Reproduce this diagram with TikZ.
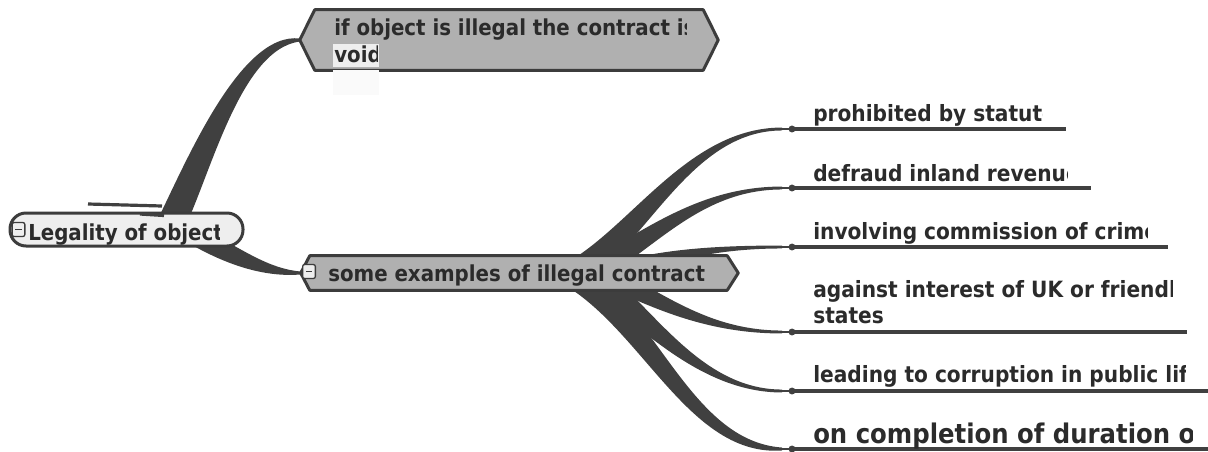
\documentclass[tikz,border=0pt]{standalone}
\usepackage{fontspec}
\newfontfamily\mapfont{DejaVu Sans Condensed}
\usetikzlibrary{calc}

\definecolor{ink}{HTML}{2B2B2B}
\definecolor{branchc}{HTML}{404040}
\definecolor{hexfill}{HTML}{B0B0B0}
\definecolor{paper}{HTML}{EEEEEE}
\definecolor{edge}{HTML}{3C3C3C}

\tikzset{
  branch/.style={fill=branchc},
  hexnode/.style={fill=hexfill, draw=edge, line width=2.25pt, line join=round},
  rootbox/.style={rectangle, rounded corners=12pt, fill=paper, draw=edge, line width=2.25pt,
                  minimum width=174.75pt, minimum height=24.75pt, inner sep=0pt},
  hexbox/.style={rectangle, inner sep=0pt},
  label/.style={font=\mapfont\bfseries\fontsize{16.5}{20}\selectfont, text=ink, inner sep=0pt, anchor=base west},
  leaflabel/.style={label, font=\mapfont\bfseries\fontsize{16.8}{20}\selectfont},
  biglabel/.style={label, font=\mapfont\bfseries\fontsize{20.3}{24}\selectfont},
  leafline/.style={draw=branchc, line width=2.8pt},
  stemline/.style={draw=branchc, line width=2.2pt},
  fold/.style={rectangle, rounded corners=1.5pt, draw=edge, fill=paper, line width=1pt,
               minimum width=9.5pt, minimum height=10.5pt, inner sep=0pt,
               path picture={\draw[edge, line width=1.1pt]
                 ([xshift=-2.4pt]path picture bounding box.center) --
                 ([xshift=2.4pt]path picture bounding box.center);}},
}

% tapered branch: start, control 1, control 2, end,
% half-width at start, half-width at control 2, half-width at end
\newcommand\taper[7]{%
  \coordinate (tpA) at ($(#1)!#5!90:(#2)$);
  \coordinate (tpB) at ($(#1)!#5!-90:(#2)$);
  \coordinate (tpC) at ($(#2)+(tpA)-(#1)$);
  \coordinate (tpD) at ($(#2)+(tpB)-(#1)$);
  \coordinate (tpG) at ($(#3)!#6!90:(#4)$);
  \coordinate (tpH) at ($(#3)!#6!-90:(#4)$);
  \coordinate (tpE) at ($(#4)!#7!-90:(#3)$);
  \coordinate (tpF) at ($(#4)!#7!90:(#3)$);
  \fill[branch] (tpA) .. controls (tpC) and (tpG) .. (tpE) -- (tpF)
                .. controls (tpH) and (tpD) .. (tpB) -- cycle;
}

\begin{document}
\begin{tikzpicture}[x=0.75pt,y=-0.75pt]
\useasboundingbox[fill=white] (0,0) rectangle (1208,451);

% ---- anchor points of the map ----
\coordinate (rootT) at (170,226);
\coordinate (rootB) at (200,238);
\coordinate (topL) at (300,40);
\coordinate (midL) at (301,273);
\coordinate (hub1) at (575,273);
\coordinate (hub2) at (590,273);
\coordinate (hub3) at (600,275);
\coordinate (hub4) at (600,273);
\coordinate (hub5) at (590,273);
\coordinate (hub6) at (570,273);
\foreach \i/\y in {1/129,2/188,3/247,4/332,5/391,6/449}{
  \coordinate (e\i) at (782,\y);
  \coordinate (l\i) at (792,\y);
}

% ---- branches ----
\taper{rootT}{198,170}{240,40}{topL}{10.5pt}{6.75pt}{1.1pt}
\taper{rootB}{240,260}{270,273}{midL}{7.5pt}{3pt}{1.1pt}
\taper{hub1}{640,235}{690,129}{e1}{9.75pt}{1.1pt}{1.1pt}
\taper{hub2}{650,240}{700,188}{e2}{8.25pt}{1.1pt}{1.1pt}
\taper{hub3}{655,258}{705,247}{e3}{6pt}{1.1pt}{1.1pt}
\taper{hub4}{655,298}{705,332}{e4}{7.5pt}{1.1pt}{1.1pt}
\taper{hub5}{645,315}{700,391}{e5}{9pt}{1.1pt}{1.1pt}
\taper{hub6}{650,320}{690,449}{e6}{9.75pt}{6pt}{1.1pt}

% stray stroke above the central topic
\draw[branchc, line width=2.4pt] (88,204) -- (162,206);

% ---- central topic ----
\node[rootbox] (root) at (126.5,229.5) {};
\draw[branchc, line width=2.4pt] (140,214) -- (164,215.5);
\node[fold] (rootfold) at (18.5,229.5) {};
\begin{scope}
  \clip (26,210) rectangle (219,252);
  \node[label] (rootlabel) at (28,240) {Legality of object};
\end{scope}

% ---- upper topic ----
\node[hexbox, minimum width=291pt, minimum height=45pt] (top) at (509,40) {};
\draw[hexnode] ([xshift=-11.25pt]top.west) -- (top.north west) -- (top.north east)
  -- ([xshift=11.25pt]top.east) -- (top.south east) -- (top.south west) -- cycle;
\fill[paper] (333,44) rectangle (379,67);
\fill[gray!4] (333,70) rectangle (379,95);
\begin{scope}
  \clip (330,12) rectangle (686,42);
  \node[label] (toplabel) at (334,35) {if object is illegal the contract is};
\end{scope}
\begin{scope}
  \clip (333,44) rectangle (377,68);
  \node[label] (topvoid) at (334,62) {void};
\end{scope}

% ---- lower topic ----
\node[hexbox, minimum width=312.75pt, minimum height=25.5pt] (mid) at (518.5,273) {};
\draw[hexnode] ([xshift=-6.75pt]mid.west) -- (mid.north west) -- (mid.north east)
  -- ([xshift=8.25pt]mid.east) -- (mid.south east) -- (mid.south west) -- cycle;
\node[fold] (midfold) at (309,271.5) {};
\node[label] (midlabel) at (328,281) {some examples of illegal contract};

% ---- leaves: stem, dot, underline ----
\foreach \i/\x in {1/1066,2/1091,3/1168,4/1187,5/1208,6/1208}{
  \draw[stemline] (e\i) -- (l\i);
  \draw[leafline] (l\i) -- (\x,0 |- l\i);
  \fill[branchc] (l\i) circle (2.6pt);
}

\begin{scope}
  \clip (810,95) rectangle (1042,128);
  \node[leaflabel] (leaf1) at (813,121) {prohibited by statute};
\end{scope}
\begin{scope}
  \clip (810,155) rectangle (1067,187);
  \node[leaflabel] (leaf2) at (813,181) {defraud inland revenue};
\end{scope}
\begin{scope}
  \clip (810,213) rectangle (1147,246);
  \node[leaflabel] (leaf3) at (813,239) {involving commission of crime};
\end{scope}
\begin{scope}
  \clip (810,271) rectangle (1172,303);
  \node[leaflabel] (leaf4) at (813,297) {against interest of UK or friendly};
\end{scope}
\node[leaflabel] (leaf4b) at (813,323) {states};
\begin{scope}
  \clip (810,356) rectangle (1185,390);
  \node[leaflabel] (leaf5) at (813,382) {leading to corruption in public life};
\end{scope}
\begin{scope}
  \clip (810,412) rectangle (1192,448);
  \node[biglabel] (leaf6) at (813,443) {on completion of duration of contract};
\end{scope}
\end{tikzpicture}
\end{document}
